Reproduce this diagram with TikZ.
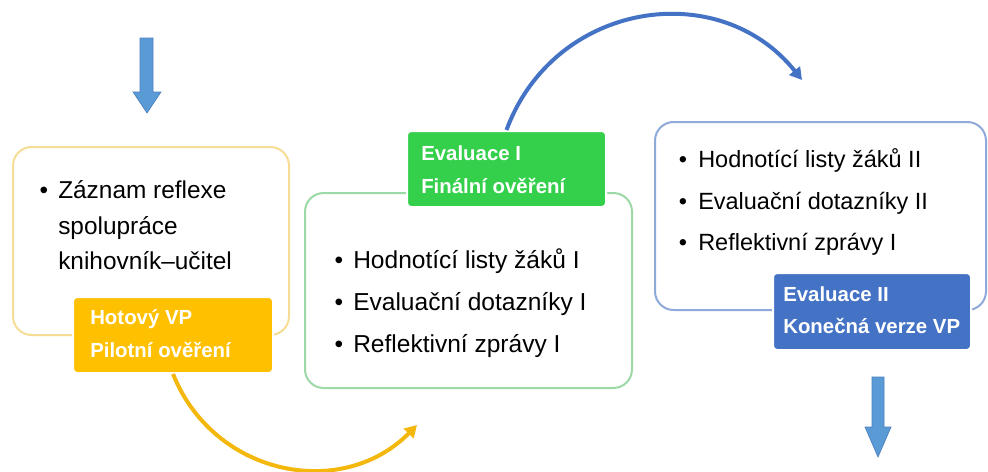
\documentclass[tikz,border=0pt]{standalone}
\usepackage{fontspec}
\setmainfont{Liberation Sans}
\usetikzlibrary{arrows.meta}
\definecolor{arrowblue}{HTML}{5B9BD5}
\definecolor{arrowedge}{HTML}{4A7FBF}
\definecolor{yborder}{HTML}{F6DD95}
\definecolor{yfill}{HTML}{FFC000}
\definecolor{yarc}{HTML}{F4B80C}
\definecolor{gborder}{HTML}{9DD9A7}
\definecolor{gfill}{HTML}{34D04B}
\definecolor{bborder}{HTML}{8FA9DA}
\definecolor{bfill}{HTML}{4472C4}
\definecolor{barc}{HTML}{4472C4}
\begin{document}
\begin{tikzpicture}[x=0.75pt,y=-0.75pt,
 box/.style={draw, line width=1.5pt, rounded corners=14pt},
 tag/.style={rounded corners=3pt, draw=white, line width=1.5pt, inner sep=0pt},
 body/.style={anchor=base west, inner sep=0pt, font=\fontsize{#1}{22}\selectfont},
 body/.default=18.4,
 bul/.style={anchor=base, inner sep=0pt, font=\fontsize{#1}{22}\selectfont},
 bul/.default=18.4,
 tagtext/.style={anchor=base west, inner sep=0pt, text=white, font=\bfseries\fontsize{15.3}{18}\selectfont},
 flow/.style={line width=3pt, -{Triangle[length=9pt,width=10pt]}},
 blockarrow/.style={fill=arrowblue, draw=arrowedge, line width=0.5pt, line join=miter}]

\useasboundingbox (0,0) rectangle (988,471);
\fill[white] (0,0) rectangle (988,471);

% block arrows
\draw[blockarrow] (140,38) -- (153,38) -- (153,92) -- (161,92) -- (147,113) -- (133,92) -- (140,92) -- cycle;
\draw[blockarrow] (872,377) -- (884,377) -- (884,427) -- (891,427) -- (878,457) -- (865,427) -- (872,427) -- cycle;

% boxes
\draw[box, draw=yborder] (13,147) rectangle (289,335);
\draw[box, draw=gborder] (305,193) rectangle (632,388);
\draw[box, draw=bborder] (655,122) rectangle (986,310);

% tags
\node[tag, fill=yfill, minimum width=150pt, minimum height=57pt] (ylab) at (173,335) {};
\node[tag, fill=gfill, minimum width=149.25pt, minimum height=57pt] (glab) at (506.5,169) {};
\node[tag, fill=bfill, minimum width=148.5pt, minimum height=57.75pt] (blab) at (872,311.5) {};

% tag texts
\node[tagtext] (y1) at (90,324) {Hotový VP};
\node[tagtext] (y2) at (90,357) {Pilotní ověření};
\node[tagtext] (g1) at (421,160) {Evaluace I};
\node[tagtext] (g2) at (421,193) {Finální ověření};
\node[tagtext] (b1) at (783,301) {Evaluace II};
\node[tagtext] (b2) at (783,333) {Konečná verze VP};

% yellow box body
\node[bul=18.3] (ybu) at (44,198) {•};
\node[body=18.3] (yt1) at (58,198) {Záznam reflexe};
\node[body=18.3] (yt2) at (58,234) {spolupráce};
\node[body=18.3] (yt3) at (58,269) {knihovník–učitel};

% green box body
\node[bul] (gbu1) at (339,268) {•};
\node[bul] (gbu2) at (339,310) {•};
\node[bul] (gbu3) at (339,352) {•};
\node[body] (gt1) at (353,268) {Hodnotící listy žáků I};
\node[body] (gt2) at (353,310) {Evaluační dotazníky I};
\node[body] (gt3) at (353,352) {Reflektivní zprávy I};

% blue box body
\node[bul=17.6] (bbu1) at (683,167) {•};
\node[bul=17.6] (bbu2) at (683,209) {•};
\node[bul=17.6] (bbu3) at (683,250) {•};
\node[body=17.6] (bt1) at (698,167) {Hodnotící listy žáků II};
\node[body=17.6] (bt2) at (698,209) {Evaluační dotazníky II};
\node[body=17.6] (bt3) at (698,250) {Reflektivní zprávy I};

% curved connectors
\coordinate (yend) at (417,425);
\coordinate (bend) at (802,80);
\draw[flow, yarc] (ylab.south) .. controls (214,476) and (342,501) .. (yend);
\draw[flow, barc] (glab.north) .. controls (554,1.5) and (719,-24) .. (bend);
\end{tikzpicture}
\end{document}
